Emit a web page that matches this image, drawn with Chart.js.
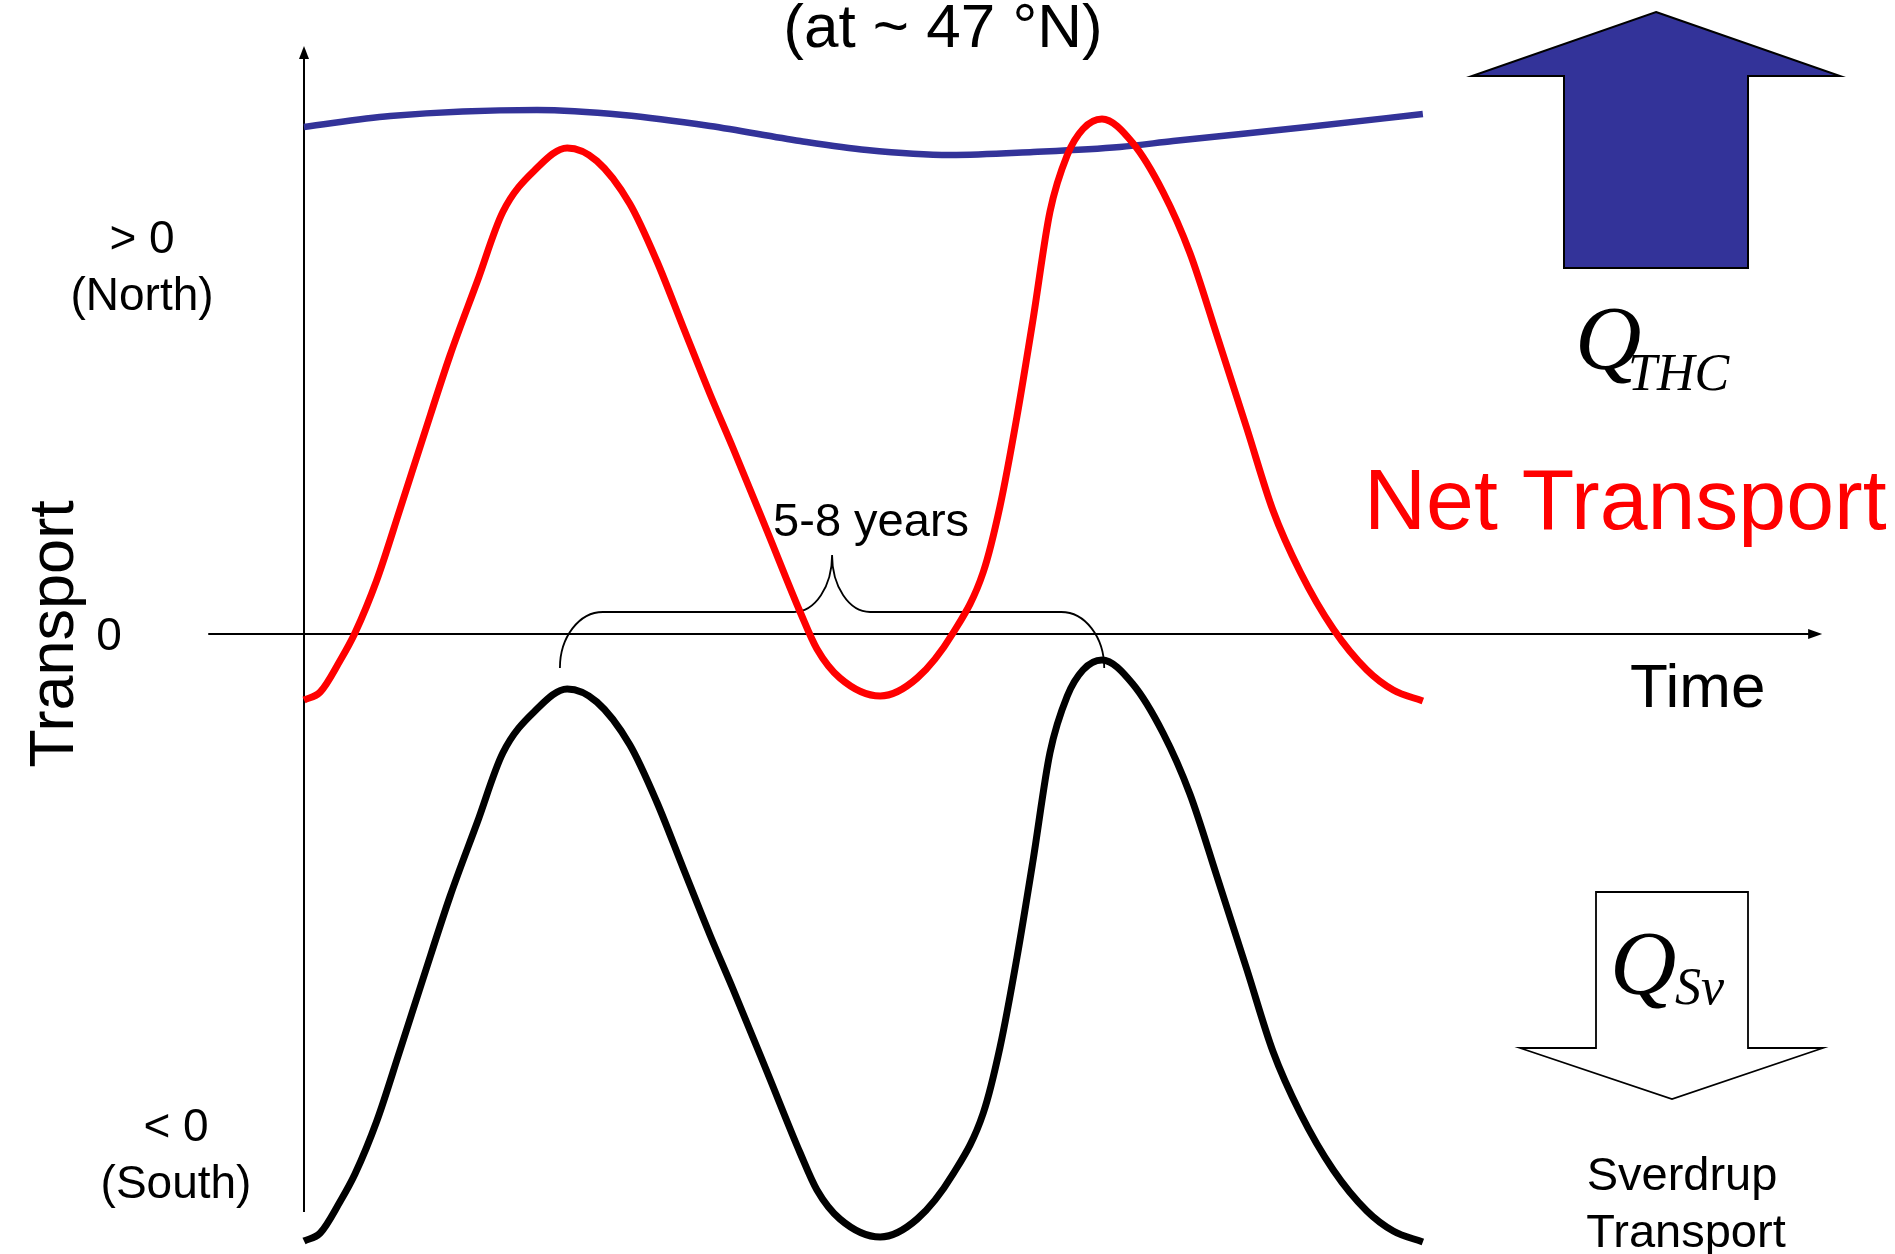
<!DOCTYPE html>
<html>
<head>
<meta charset="utf-8">
<script src="https://cdn.jsdelivr.net/npm/chart.js@4/dist/chart.umd.min.js"></script>
<style>
  html, body { margin: 0; padding: 0; background: #ffffff; overflow: hidden; }
  canvas { display: block; }
</style>
</head>
<body>
<canvas id="chart" width="1895" height="1254"></canvas>
<script>
// Time (arbitrary units) and transport (arbitrary units, >0 northward)
const timeSteps = [0.00, 0.29, 0.64, 0.91, 1.30, 1.71, 2.13, 2.61, 3.09, 3.55, 4.16, 4.70, 5.23, 5.82, 6.30, 6.77, 7.25,
                   7.66, 8.27, 8.86, 9.16, 9.57, 10.29, 10.95, 11.59, 12.13, 12.43, 12.73, 13.02, 13.32, 13.63, 13.91, 14.25,
                   14.80, 15.34, 15.82, 16.30, 16.84, 17.30, 17.79, 18.38, 18.98, 19.45, 19.98];

const netTransport = [-0.66, -0.58, -0.27, 0.01, 0.54, 1.24, 1.97, 2.79, 3.52, 4.22, 4.66, 4.86, 4.73, 4.30, 3.73, 3.07, 2.40,
                      1.86, 1.03, 0.22, -0.15, -0.44, -0.62, -0.44, 0.01, 0.62, 1.28, 2.17, 3.15, 4.22, 4.79, 5.05, 5.15,
                      4.91, 4.42, 3.81, 2.99, 2.05, 1.24, 0.62, 0.05, -0.36, -0.56, -0.67];

const sverdrupTransport = [-6.07, -5.99, -5.68, -5.40, -4.87, -4.17, -3.44, -2.62, -1.89, -1.19, -0.75, -0.55, -0.68, -1.11, -1.68, -2.34, -3.01,
                           -3.55, -4.38, -5.19, -5.56, -5.85, -6.03, -5.85, -5.40, -4.79, -4.13, -3.24, -2.26, -1.19, -0.62, -0.36, -0.26,
                           -0.50, -0.99, -1.60, -2.42, -3.36, -4.17, -4.79, -5.36, -5.77, -5.97, -6.08];

const thcTime = [0.00, 1.54, 4.16, 5.70, 7.25, 8.86, 10.05, 11.54, 13.02, 14.57, 15.52, 17.91, 19.98];
const thcTransport = [5.07, 5.18, 5.24, 5.19, 5.08, 4.93, 4.84, 4.79, 4.82, 4.87, 4.93, 5.07, 5.20];

// Labels on the transport axis
const yTickValues = [3.69, 0, -5.19];
const yTickLabels = [['> 0', '(North)'], ['0'], ['< 0', '(South)']];

// Bracket between the two Sverdrup maxima
const bracketStart = 4.57, bracketEnd = 14.29, bracketMid = 9.43;
const bracketText = '5-8 years';

const SANS = '"Liberation Sans", Arial, sans-serif';
const SERIF = '"Liberation Serif", "Times New Roman", serif';

function toPoints(xs, ys) { return xs.map((x, i) => ({ x: x, y: ys[i] })); }

const diagramPlugin = {
  id: 'diagram',
  beforeDatasetsDraw(chart) {
    const ctx = chart.ctx;
    const X = chart.scales.x, Y = chart.scales.y;
    const px = v => X.getPixelForValue(v), py = v => Y.getPixelForValue(v);
    ctx.save();
    ctx.strokeStyle = '#000';
    ctx.fillStyle = '#000';
    ctx.lineWidth = 2;
    // vertical (transport) axis
    const ax = px(0);
    ctx.beginPath();
    ctx.moveTo(ax, py(-5.78));
    ctx.lineTo(ax, py(5.78));
    ctx.stroke();
    ctx.beginPath();
    ctx.moveTo(ax, py(5.88));
    ctx.lineTo(ax - 5, py(5.75));
    ctx.lineTo(ax + 5, py(5.75));
    ctx.closePath();
    ctx.fill();
    // horizontal (time) axis at zero transport
    const ay = py(0);
    ctx.beginPath();
    ctx.moveTo(px(-1.71), ay);
    ctx.lineTo(px(26.9), ay);
    ctx.stroke();
    ctx.beginPath();
    ctx.moveTo(px(27.11), ay);
    ctx.lineTo(px(26.86), ay - 5);
    ctx.lineTo(px(26.86), ay + 5);
    ctx.closePath();
    ctx.fill();

    // curly bracket
    const k = 0.5523;
    const L = px(bracketStart), R = px(bracketEnd), M = px(bracketMid);
    const yBar = py(0.22), yTip = py(0.79), yEnd = py(-0.34);
    const r1 = 43, r2 = 38;
    const ryEnd = yEnd - yBar, ryMid = yBar - yTip;
    ctx.lineWidth = 1.8;
    ctx.beginPath();
    ctx.moveTo(L, yEnd);
    ctx.bezierCurveTo(L, yEnd - ryEnd * k, L + r1 - r1 * k, yBar, L + r1, yBar);
    ctx.lineTo(M - r2, yBar);
    ctx.bezierCurveTo(M - r2 + r2 * k, yBar, M, yTip + ryMid * k, M, yTip);
    ctx.bezierCurveTo(M, yTip + ryMid * k, M + r2 - r2 * k, yBar, M + r2, yBar);
    ctx.lineTo(R - r1, yBar);
    ctx.bezierCurveTo(R - r1 + r1 * k, yBar, R, yEnd - ryEnd * k, R, yEnd);
    ctx.stroke();
    ctx.restore();
  },
  afterDraw(chart) {
    const ctx = chart.ctx;
    const X = chart.scales.x, Y = chart.scales.y;
    const px = v => X.getPixelForValue(v), py = v => Y.getPixelForValue(v);
    ctx.save();
    ctx.fillStyle = '#000';
    ctx.textBaseline = 'alphabetic';

    // title line
    ctx.font = '62px ' + SANS;
    ctx.textAlign = 'center';
    ctx.fillText('(at ~ 47 \u00B0N)', 943, 47);

    // transport axis labels
    ctx.font = '46px ' + SANS;
    const tickX = [142, 109, 176];
    yTickLabels.forEach((lines, i) => {
      const cy = py(yTickValues[i]);
      const lh = 57;
      const top = cy - (lines.length - 1) * lh / 2;
      lines.forEach((s, j) => {
        ctx.fillText(s, tickX[i], top + j * lh + 16);
      });
    });

    // axis titles
    ctx.save();
    ctx.font = '63px ' + SANS;
    ctx.translate(73, py(0));
    ctx.rotate(-Math.PI / 2);
    ctx.textAlign = 'center';
    ctx.fillText('Transport', 0, 0);
    ctx.restore();

    ctx.font = '62px ' + SANS;
    ctx.textAlign = 'left';
    ctx.fillText('Time', 1630, 707);

    // bracket label
    ctx.font = '47px ' + SANS;
    ctx.textAlign = 'center';
    ctx.fillText(bracketText, px(bracketMid) + 39, 536);

    // net transport label
    ctx.fillStyle = '#FF0000';
    ctx.font = '86px ' + SANS;
    ctx.textAlign = 'left';
    ctx.fillText('Net Transport', 1364, 529);

    // THC arrow
    ctx.fillStyle = '#333399';
    ctx.strokeStyle = '#000';
    ctx.lineWidth = 2;
    ctx.lineJoin = 'miter';
    ctx.beginPath();
    ctx.moveTo(1656, 12);
    ctx.lineTo(1840, 76);
    ctx.lineTo(1748, 76);
    ctx.lineTo(1748, 268);
    ctx.lineTo(1564, 268);
    ctx.lineTo(1564, 76);
    ctx.lineTo(1472, 76);
    ctx.closePath();
    ctx.fill();
    ctx.stroke();

    // Sverdrup arrow
    ctx.fillStyle = '#ffffff';
    ctx.lineWidth = 1.8;
    ctx.beginPath();
    ctx.moveTo(1596, 892);
    ctx.lineTo(1748, 892);
    ctx.lineTo(1748, 1048);
    ctx.lineTo(1823, 1048);
    ctx.lineTo(1672, 1099);
    ctx.lineTo(1520, 1048);
    ctx.lineTo(1596, 1048);
    ctx.closePath();
    ctx.fill();
    ctx.stroke();

    // symbols
    ctx.fillStyle = '#000';
    ctx.textAlign = 'left';
    ctx.font = 'italic 92px ' + SERIF;
    ctx.fillText('Q', 1575, 369);
    ctx.font = 'italic 52px ' + SERIF;
    ctx.fillText('THC', 1628, 390);

    ctx.font = 'italic 92px ' + SERIF;
    ctx.fillText('Q', 1610, 994);
    ctx.font = 'italic 52px ' + SERIF;
    ctx.fillText('Sv', 1675, 1004);

    ctx.font = '47px ' + SANS;
    ctx.textAlign = 'center';
    ctx.fillText('Sverdrup', 1682, 1190);
    ctx.fillText('Transport', 1686, 1247);
    ctx.restore();
  }
};

new Chart(document.getElementById('chart'), {
  type: 'line',
  data: {
    datasets: [
      {
        label: 'Net Transport',
        data: toPoints(timeSteps, netTransport),
        borderColor: '#FF0000',
        borderWidth: 7,
        order: 1
      },
      {
        label: 'Sverdrup Transport',
        data: toPoints(timeSteps, sverdrupTransport),
        borderColor: '#000000',
        borderWidth: 7,
        order: 2
      },
      {
        label: 'THC',
        data: toPoints(thcTime, thcTransport),
        borderColor: '#333399',
        borderWidth: 6.5,
        order: 3
      }
    ]
  },
  options: {
    responsive: false,
    devicePixelRatio: 1,
    animation: false,
    layout: { padding: 0 },
    datasets: {
      line: { cubicInterpolationMode: 'monotone', fill: false, pointRadius: 0, borderJoinStyle: 'round' }
    },
    plugins: { legend: { display: false }, tooltip: { enabled: false }, title: { display: false } },
    scales: {
      x: { type: 'linear', display: false, min: -5.4286, max: 28.411 },
      y: { type: 'linear', display: false, min: -6.2, max: 6.34 }
    }
  },
  plugins: [diagramPlugin]
});
</script>
</body>
</html>
